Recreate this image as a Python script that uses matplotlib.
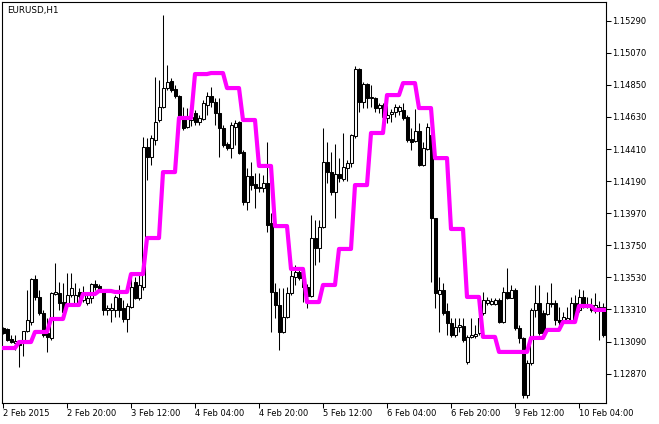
import numpy as np
import matplotlib
matplotlib.use("Agg")
import matplotlib.pyplot as plt

# EURUSD H1 bars, 2 Feb 2015 .. 10 Feb 2015
opens = [
    1.13183, 1.13176, 1.13108, 1.13080, 1.13094, 1.13087, 1.13163, 1.13224, 1.13519, 1.13396,
    1.13286, 1.13149, 1.13115, 1.13416, 1.13423, 1.13361, 1.13341, 1.13409, 1.13355, 1.13430,
    1.13375, 1.13355, 1.13389, 1.13485, 1.13471, 1.13430, 1.13307, 1.13307, 1.13307, 1.13389,
    1.13320, 1.13245, 1.13327, 1.13499, 1.13389, 1.13464, 1.14424, 1.14355, 1.14472, 1.14609,
    1.14698, 1.14828, 1.14876, 1.14821, 1.14773, 1.14629, 1.14561, 1.14609, 1.14657, 1.14595,
    1.14616, 1.14712, 1.14773, 1.14732, 1.14657, 1.14554, 1.14444, 1.14417, 1.14561, 1.14595,
    1.14390, 1.14047, 1.14225, 1.14170, 1.14150, 1.14143, 1.14177, 1.13903, 1.13430, 1.13341,
    1.13156, 1.13259, 1.13423, 1.13533, 1.13567, 1.13526, 1.13464, 1.13403, 1.13800, 1.13732,
    1.13876, 1.14321, 1.14252, 1.14115, 1.14239, 1.14204, 1.14280, 1.14314, 1.14499, 1.14958,
    1.14732, 1.14856, 1.14760, 1.14760, 1.14691, 1.14712, 1.14623, 1.14650, 1.14664, 1.14671,
    1.14677, 1.14629, 1.14479, 1.14465, 1.14533, 1.14300, 1.14410, 1.14506, 1.13937, 1.13416,
    1.13444, 1.13300, 1.13217, 1.13135, 1.13190, 1.13197, 1.12950, 1.13122, 1.13128, 1.13149,
    1.13286, 1.13355, 1.13348, 1.13348, 1.13375, 1.13224, 1.13430, 1.13389, 1.13444, 1.13183,
    1.13115, 1.12724, 1.12943, 1.13307, 1.13355, 1.13286, 1.13279, 1.13348, 1.13355, 1.13238,
    1.13238, 1.13238, 1.13238, 1.13355, 1.13307, 1.13396, 1.13327, 1.13341, 1.13320, 1.13327,
    1.13327, 1.13149,
]
highs = [
    1.13190, 1.13183, 1.13135, 1.13135, 1.13101, 1.13163, 1.13444, 1.13526, 1.13546, 1.13444,
    1.13307, 1.13252, 1.13430, 1.13629, 1.13499, 1.13492, 1.13560, 1.13560, 1.13492, 1.13457,
    1.13471, 1.13430, 1.13492, 1.13512, 1.13485, 1.13444, 1.13341, 1.13355, 1.13409, 1.13478,
    1.13375, 1.13355, 1.13533, 1.13533, 1.13560, 1.14492, 1.14486, 1.14506, 1.14904, 1.14883,
    1.15329, 1.14986, 1.14897, 1.14849, 1.14780, 1.14698, 1.14691, 1.14677, 1.14677, 1.14643,
    1.14746, 1.14801, 1.14835, 1.14760, 1.14760, 1.14575, 1.14458, 1.14595, 1.14609, 1.14602,
    1.14403, 1.14280, 1.14321, 1.14246, 1.14246, 1.14232, 1.14458, 1.13971, 1.13492, 1.13457,
    1.13457, 1.13464, 1.13594, 1.13615, 1.13594, 1.13546, 1.13485, 1.13958, 1.13923, 1.13923,
    1.14554, 1.14458, 1.14390, 1.14444, 1.14348, 1.14520, 1.14335, 1.14513, 1.14979, 1.14965,
    1.14869, 1.14862, 1.14849, 1.14767, 1.14725, 1.14725, 1.14712, 1.14684, 1.14719, 1.14712,
    1.14725, 1.14643, 1.14554, 1.14684, 1.14588, 1.14458, 1.14588, 1.14561, 1.13937, 1.13533,
    1.13492, 1.13355, 1.13252, 1.13252, 1.13252, 1.13252, 1.13135, 1.13252, 1.13204, 1.13293,
    1.13430, 1.13396, 1.13389, 1.13389, 1.13389, 1.13464, 1.13594, 1.13478, 1.13457, 1.13204,
    1.13122, 1.12964, 1.13320, 1.13478, 1.13478, 1.13307, 1.13430, 1.13492, 1.13375, 1.13327,
    1.13293, 1.13327, 1.13396, 1.13409, 1.13451, 1.13444, 1.13396, 1.13389, 1.13423, 1.13368,
    1.13355, 1.13156,
]
lows = [
    1.13142, 1.13094, 1.13080, 1.13032, 1.12916, 1.12991, 1.13156, 1.13204, 1.13375, 1.13272,
    1.13122, 1.13019, 1.13101, 1.13409, 1.13307, 1.13259, 1.13320, 1.13396, 1.13341, 1.13355,
    1.13361, 1.13341, 1.13355, 1.13444, 1.13430, 1.13272, 1.13272, 1.13224, 1.13259, 1.13259,
    1.13224, 1.13156, 1.13320, 1.13382, 1.13375, 1.13444, 1.14198, 1.14300, 1.14438, 1.14595,
    1.14691, 1.14814, 1.14801, 1.14760, 1.14623, 1.14540, 1.14554, 1.14568, 1.14575, 1.14575,
    1.14609, 1.14643, 1.14698, 1.14575, 1.14355, 1.14424, 1.14403, 1.14348, 1.14438, 1.14376,
    1.14026, 1.13992, 1.14129, 1.14006, 1.14115, 1.14115, 1.13841, 1.13156, 1.13252, 1.13032,
    1.13149, 1.13252, 1.13409, 1.13478, 1.13512, 1.13361, 1.13320, 1.13396, 1.13615, 1.13636,
    1.13869, 1.14177, 1.14095, 1.13937, 1.14184, 1.14191, 1.14191, 1.14287, 1.14486, 1.14664,
    1.14691, 1.14691, 1.14698, 1.14664, 1.14657, 1.14609, 1.14588, 1.14595, 1.14629, 1.14643,
    1.14609, 1.14458, 1.14403, 1.14458, 1.14294, 1.14294, 1.14403, 1.13499, 1.13320, 1.13156,
    1.13272, 1.13135, 1.13122, 1.13122, 1.13156, 1.13087, 1.12936, 1.13115, 1.13115, 1.13135,
    1.13272, 1.13341, 1.13341, 1.13341, 1.13217, 1.13217, 1.13382, 1.13389, 1.13170, 1.13080,
    1.12703, 1.12703, 1.12930, 1.13259, 1.13135, 1.13135, 1.13272, 1.13327, 1.13204, 1.13204,
    1.13217, 1.13224, 1.13224, 1.13252, 1.13293, 1.13320, 1.13320, 1.13293, 1.13286, 1.13101,
    1.13122, 1.12841,
]
closes = [
    1.13149, 1.13101, 1.13087, 1.13094, 1.13067, 1.13163, 1.13238, 1.13519, 1.13396, 1.13286,
    1.13135, 1.13122, 1.13423, 1.13430, 1.13355, 1.13293, 1.13409, 1.13457, 1.13409, 1.13403,
    1.13423, 1.13389, 1.13485, 1.13464, 1.13451, 1.13307, 1.13320, 1.13320, 1.13396, 1.13307,
    1.13245, 1.13334, 1.13464, 1.13389, 1.13478, 1.14424, 1.14355, 1.14486, 1.14595, 1.14698,
    1.14828, 1.14869, 1.14814, 1.14773, 1.14629, 1.14554, 1.14623, 1.14629, 1.14595, 1.14623,
    1.14725, 1.14773, 1.14732, 1.14657, 1.14554, 1.14438, 1.14417, 1.14575, 1.14588, 1.14383,
    1.14047, 1.14225, 1.14163, 1.14143, 1.14143, 1.14177, 1.13889, 1.13430, 1.13341, 1.13156,
    1.13259, 1.13423, 1.13540, 1.13567, 1.13526, 1.13464, 1.13403, 1.13800, 1.13732, 1.13876,
    1.14321, 1.14252, 1.14115, 1.14239, 1.14211, 1.14287, 1.14314, 1.14506, 1.14958, 1.14732,
    1.14856, 1.14760, 1.14767, 1.14691, 1.14712, 1.14629, 1.14643, 1.14664, 1.14698, 1.14698,
    1.14623, 1.14472, 1.14458, 1.14533, 1.14300, 1.14417, 1.14561, 1.13937, 1.13423, 1.13444,
    1.13286, 1.13217, 1.13135, 1.13190, 1.13204, 1.13101, 1.13122, 1.13135, 1.13142, 1.13252,
    1.13375, 1.13375, 1.13368, 1.13375, 1.13224, 1.13430, 1.13389, 1.13444, 1.13183, 1.13115,
    1.12724, 1.12943, 1.13307, 1.13355, 1.13149, 1.13149, 1.13355, 1.13355, 1.13238, 1.13224,
    1.13259, 1.13252, 1.13355, 1.13259, 1.13396, 1.13327, 1.13341, 1.13307, 1.13341, 1.13307,
    1.13135, 1.12847,
]

# indicator value, one per H4 block (4 hourly bars each)
ma_steps = [
    1.13046, 1.13087, 1.13156, 1.13245, 1.13341, 1.13416, 1.13437, 1.13430, 1.13553, 1.13800,
    1.14252, 1.14623, 1.14924, 1.14931, 1.14828, 1.14609, 1.14294, 1.13882, 1.13588, 1.13361,
    1.13478, 1.13725, 1.14163, 1.14520, 1.14780, 1.14862, 1.14691, 1.14348, 1.13862, 1.13396,
    1.13122, 1.13019, 1.13019, 1.13115, 1.13170, 1.13224, 1.13334, 1.13307,
]

time_ticks = [0, 16, 32, 48, 64, 80, 96, 112, 128, 144]
time_labels = ["2 Feb 2015", "2 Feb 20:00", "3 Feb 12:00", "4 Feb 04:00", "4 Feb 20:00",
               "5 Feb 12:00", "6 Feb 04:00", "6 Feb 20:00", "9 Feb 12:00", "10 Feb 04:00"]
price_ticks = [1.12870, 1.13090, 1.13310, 1.13530, 1.13750, 1.13970,
               1.14190, 1.14410, 1.14630, 1.14850, 1.15070, 1.15290]

o = np.array(opens)
h = np.array(highs)
l = np.array(lows)
c = np.array(closes)
x = np.arange(len(o))
ma = np.repeat(ma_steps, 4)

plt.rcParams['font.family'] = 'DejaVu Sans'

fig = plt.figure(figsize=(6.59, 4.24), dpi=100)
ax = fig.add_axes([2 / 659, 21 / 424, 604 / 659, 401 / 424])

# wicks, then bodies (white = up, black = down)
ax.vlines(x, l, h, color='black', linewidth=0.75, zorder=1)
up = c >= o
ax.bar(x[up], (c - o)[up], bottom=o[up], width=0.75, facecolor='white',
       edgecolor='black', linewidth=0.75, zorder=2)
ax.bar(x[~up], (o - c)[~up], bottom=c[~up], width=0.75, facecolor='black',
       edgecolor='black', linewidth=0.75, zorder=2)

ax.plot(x, ma, color='#ff00ff', linewidth=3.0, zorder=3)

ax.set_xlim(-0.25, 150.75)
ax.set_ylim(1.12669, 1.15418)

ax.yaxis.tick_right()
ax.set_yticks(price_ticks)
ax.set_yticklabels([f"{p:.5f}" for p in price_ticks])
ax.set_xticks(time_ticks)
ax.set_xticklabels(time_labels, ha='left')
ax.tick_params(axis='both', direction='out', length=3.5, width=0.75,
               labelsize=6, pad=1, colors='black')

for sp in ax.spines.values():
    sp.set_linewidth(0.8)
    sp.set_color('black')

ax.text(5 / 604, 1 - 4 / 401, "EURUSD,H1", transform=ax.transAxes,
        ha='left', va='top', fontsize=6.3)

fig.savefig('out.png', dpi=100)
